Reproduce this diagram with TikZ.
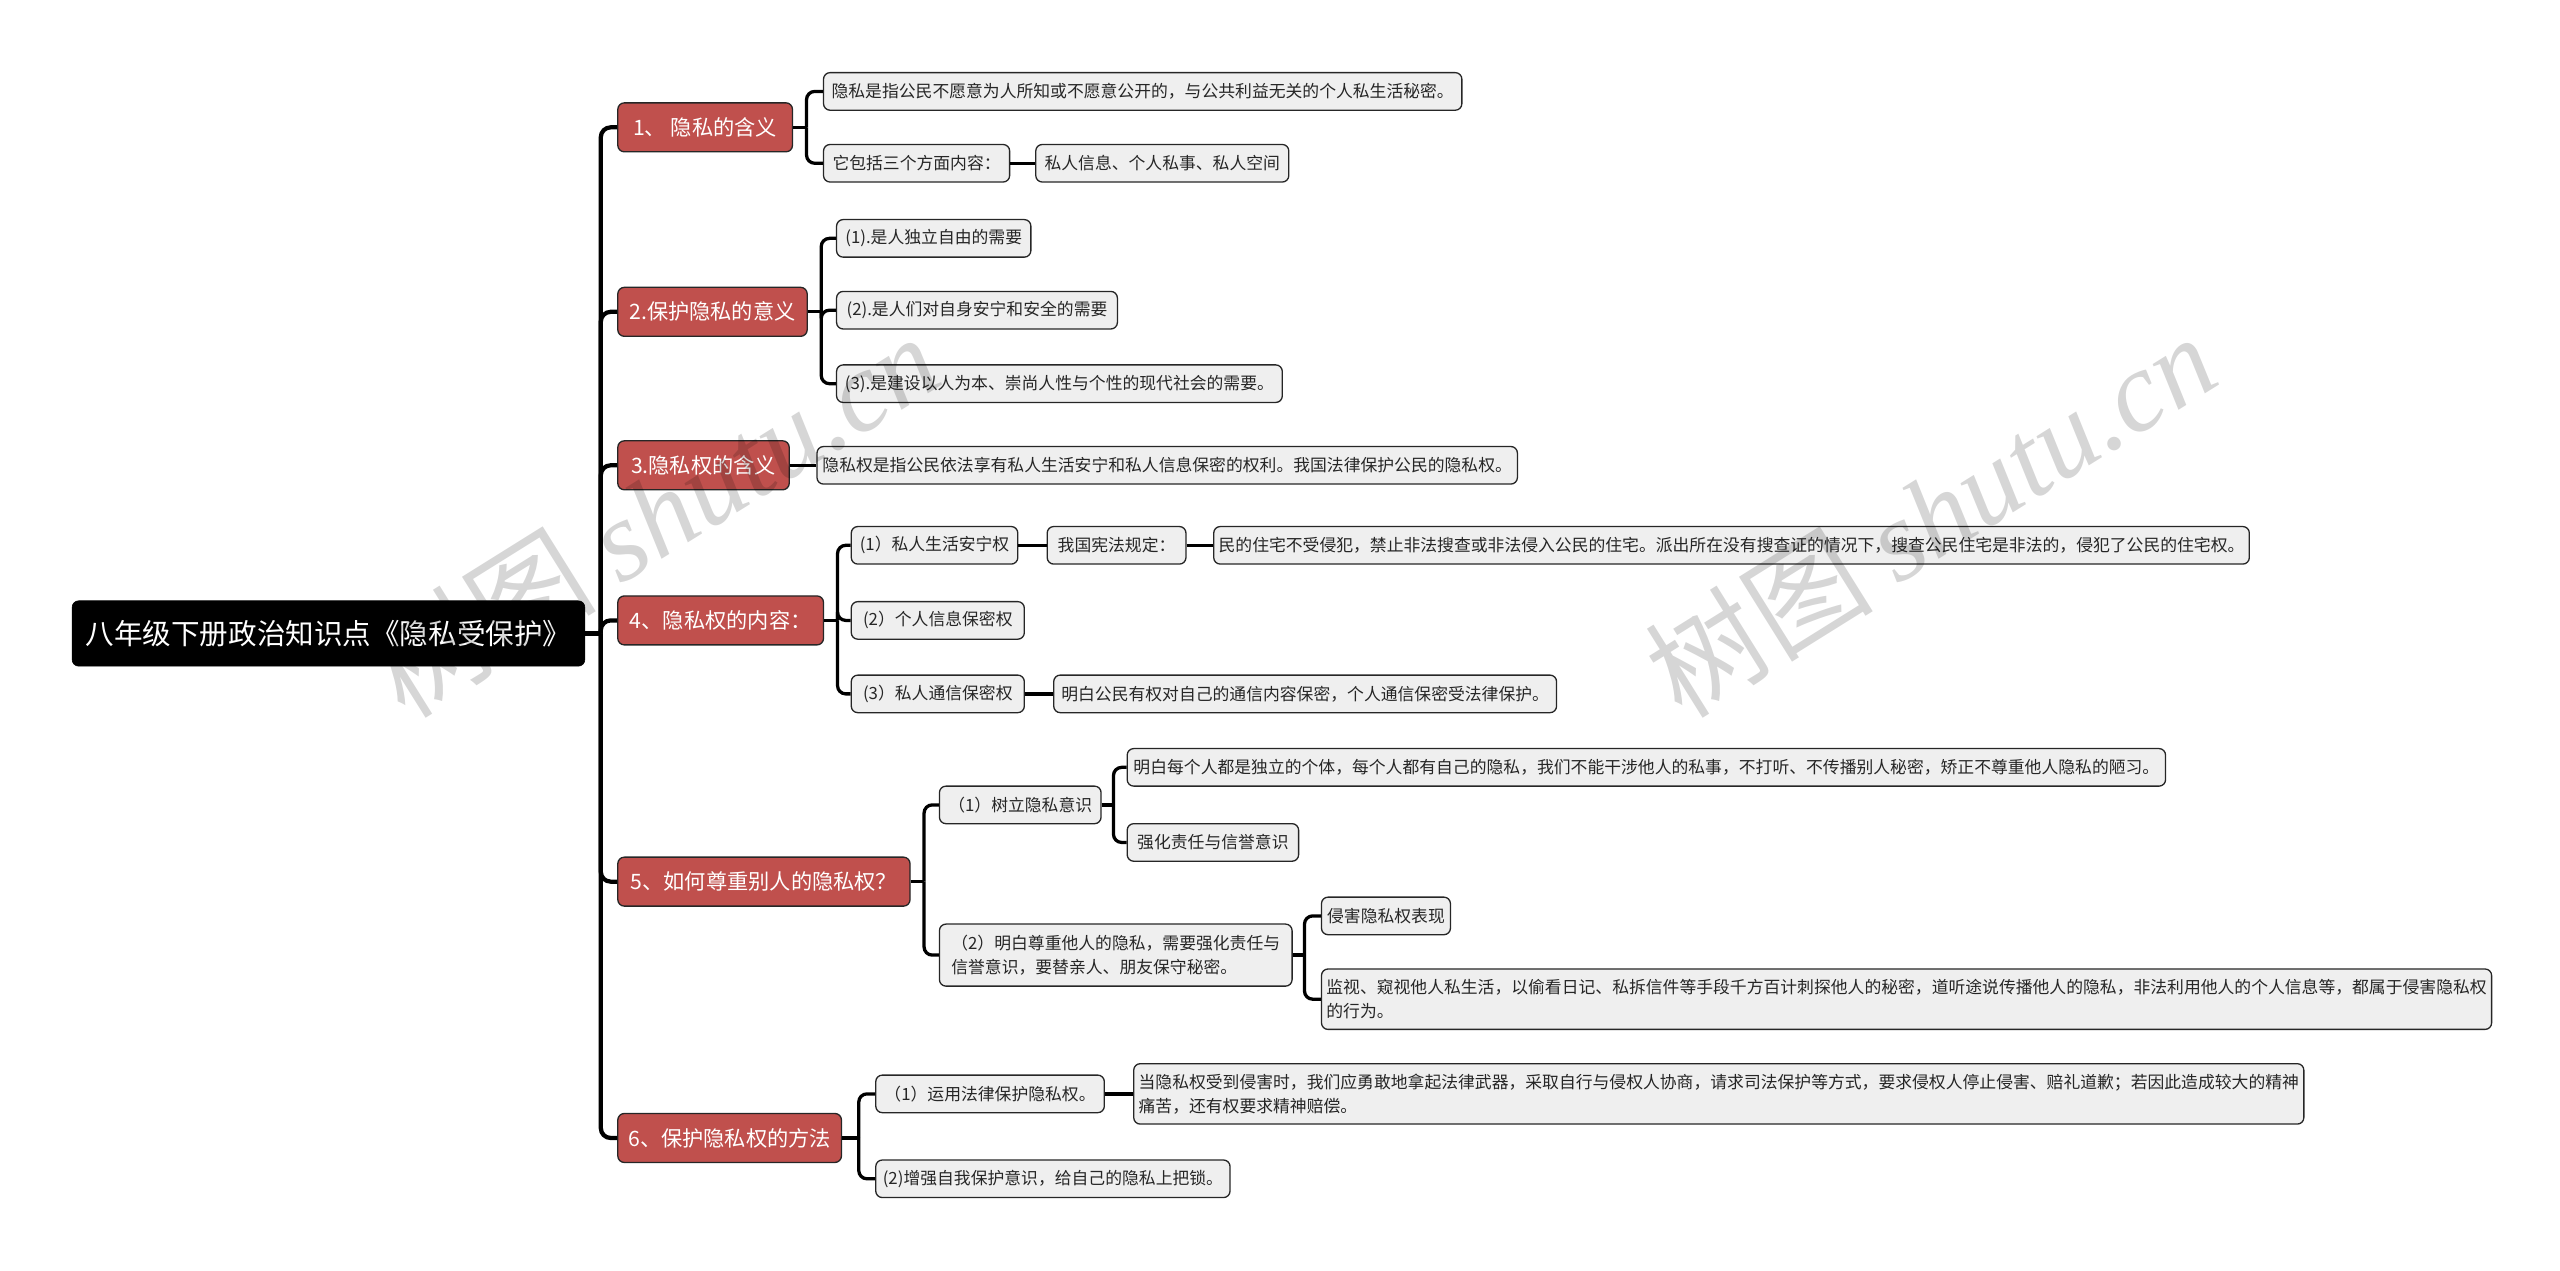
\documentclass[tikz,border=0pt]{standalone}
\usepackage{fontspec}
\setmainfont{Noto Sans CJK SC}
\newfontfamily\wmserif{Liberation Serif}
\definecolor{lred}{HTML}{C0504D}
\definecolor{lgrey}{HTML}{EFEFEF}
\begin{document}
\begin{tikzpicture}[x=1pt,y=-1pt,
  rootbox/.style={draw=black, fill=black, text=white, rounded corners=4pt,
    font=\fontsize{17.5}{20}\selectfont, minimum height=40pt, inner xsep=3pt, inner ysep=0pt, anchor=west},
  lone/.style={draw=black!85, line width=0.8pt, fill=lred, text=white, rounded corners=4pt,
    font=\fontsize{13}{15}\selectfont, minimum height=30pt, inner xsep=3pt, inner ysep=0pt, anchor=west},
  ltwo/.style={draw=black!85, line width=0.8pt, fill=lgrey, text=black!85, rounded corners=4pt,
    font=\fontsize{10.3}{14.5}\selectfont, minimum height=23pt, inner xsep=3pt, inner ysep=0pt, anchor=west, align=left},
  conn/.style={draw=black, line width=2pt, rounded corners=5pt},
  trunk/.style={draw=black, line width=2.6pt, rounded corners=6pt},
  wmark/.style={rotate=32, text=black, opacity=0.16, font=\fontsize{70}{70}\selectfont}]
\useasboundingbox (0,0) rectangle (1568,778);

% root
\node[rootbox, minimum width=314pt] (root) at (44,388) {八年级下册政治知识点《隐私受保护》};

% level 1
\node[lone, minimum width=107pt] (n1) at (378,78) {1、 隐私的含义};
\node[lone, minimum width=116pt] (n2) at (378,191) {2.保护隐私的意义};
\node[lone, minimum width=105pt] (n3) at (378,285) {3.隐私权的含义};
\node[lone, minimum width=126pt] (n4) at (378,380) {4、隐私权的内容：};
\node[lone, minimum width=179pt] (n5) at (378,540) {5、如何尊重别人的隐私权？};
\node[lone, minimum width=137pt] (n6) at (378,697) {6、保护隐私权的方法};

% level 2 and deeper
\node[ltwo, minimum width=391pt] (a1) at (504,56) {隐私是指公民不愿意为人所知或不愿意公开的，与公共利益无关的个人私生活秘密。};
\node[ltwo, minimum width=114pt] (a2) at (504,100) {它包括三个方面内容：};
\node[ltwo, minimum width=155pt] (a2x) at (634,100) {私人信息、个人私事、私人空间};

\node[ltwo, minimum width=119pt] (b1) at (512,146) {(1).是人独立自由的需要};
\node[ltwo, minimum width=172pt] (b2) at (512,190) {(2).是人们对自身安宁和安全的需要};
\node[ltwo, minimum width=273pt] (b3) at (512,235) {(3).是建设以人为本、崇尚人性与个性的现代社会的需要。};

\node[ltwo, minimum width=429pt] (c1) at (500,285) {隐私权是指公民依法享有私人生活安宁和私人信息保密的权利。我国法律保护公民的隐私权。};

\node[ltwo, minimum width=102pt] (d1) at (521,334) {(1）私人生活安宁权};
\node[ltwo, minimum width=85pt] (d1x) at (641,334) {我国宪法规定：};
\node[ltwo, minimum width=634pt] (d1y) at (743,334) {民的住宅不受侵犯，禁止非法搜查或非法侵入公民的住宅。派出所在没有搜查证的情况下，搜查公民住宅是非法的，侵犯了公民的住宅权。};
\node[ltwo, minimum width=106pt] (d2) at (521,380) {(2）个人信息保密权};
\node[ltwo, minimum width=106pt] (d3) at (521,425) {(3）私人通信保密权};
\node[ltwo, minimum width=308pt] (d3x) at (645,425) {明白公民有权对自己的通信内容保密，个人通信保密受法律保护。};

\node[ltwo, minimum width=99pt] (e1) at (575,493) {（1）树立隐私意识};
\node[ltwo, minimum width=636pt] (e1x) at (690,470) {明白每个人都是独立的个体，每个人都有自己的隐私，我们不能干涉他人的私事，不打听、不传播别人秘密，矫正不尊重他人隐私的陋习。};
\node[ltwo, minimum width=105pt] (e1y) at (690,516) {强化责任与信誉意识};
\node[ltwo, minimum width=216pt, minimum height=38pt] (e2) at (575,585) {（2）明白尊重他人的隐私，需要强化责任与\\信誉意识，要替亲人、朋友保守秘密。};
\node[ltwo, minimum width=79pt] (e2x) at (809,561) {侵害隐私权表现};
\node[ltwo, minimum width=715pt, minimum height=37pt] (e2y) at (809,612) {监视、窥视他人私生活，以偷看日记、私拆信件等手段千方百计刺探他人的秘密，道听途说传播他人的隐私，非法利用他人的个人信息等，都属于侵害隐私权\\的行为。};

\node[ltwo, minimum width=140pt] (f1) at (536,670) {（1）运用法律保护隐私权。};
\node[ltwo, minimum width=715pt, minimum height=37pt] (f1x) at (694,670) {当隐私权受到侵害时，我们应勇敢地拿起法律武器，采取自行与侵权人协商，请求司法保护等方式，要求侵权人停止侵害、赔礼道歉；若因此造成较大的精神\\痛苦，还有权要求精神赔偿。};
\node[ltwo, minimum width=217pt] (f2) at (536,722) {(2)增强自我保护意识，给自己的隐私上把锁。};

% junctions
\coordinate (rj) at (368,388);
\coordinate (j1) at (494,78);
\coordinate (j2) at (503,191);
\coordinate (j4) at (513,380);
\coordinate (j5) at (566,540);
\coordinate (je1) at (682,493);
\coordinate (je2) at (799,585);
\coordinate (j6) at (526,697);

% trunk connectors
\draw[trunk] (root.east) -- (rj);
\foreach \n in {n1,n2,n3,n4,n5,n6} \draw[trunk] (rj) |- (\n.west);

% branch connectors
\draw[conn] (n1.east) -- (j1);
\draw[conn] (j1) |- (a1.west);
\draw[conn] (j1) |- (a2.west);
\draw[conn] (a2.east) -- (a2x.west);

\draw[conn] (n2.east) -- (j2);
\draw[conn] (j2) |- (b1.west);
\draw[conn] (j2) |- (b2.west);
\draw[conn] (j2) |- (b3.west);

\draw[conn] (n3.east) -- (c1.west);

\draw[conn] (n4.east) -- (j4);
\draw[conn] (j4) |- (d1.west);
\draw[conn] (j4) |- (d2.west);
\draw[conn] (j4) |- (d3.west);
\draw[conn] (d1.east) -- (d1x.west);
\draw[conn] (d1x.east) -- (d1y.west);
\draw[conn] (d3.east) -- (d3x.west);

\draw[conn] (n5.east) -- (j5);
\draw[conn] (j5) |- (e1.west);
\draw[conn] (j5) |- (e2.west);
\draw[conn] (e1.east) -- (je1);
\draw[conn] (je1) |- (e1x.west);
\draw[conn] (je1) |- (e1y.west);
\draw[conn] (e2.east) -- (je2);
\draw[conn] (je2) |- (e2x.west);
\draw[conn] (je2) |- (e2y.west);

\draw[conn] (n6.east) -- (j6);
\draw[conn] (j6) |- (f1.west);
\draw[conn] (j6) |- (f2.west);
\draw[conn] (f1.east) -- (f1x.west);

% watermarks
\node[wmark] (wm1) at (400,315) {树图 {\wmserif\itshape shutu.cn}};
\node[wmark] (wm2) at (1182,315) {树图 {\wmserif\itshape shutu.cn}};
\end{tikzpicture}
\end{document}
